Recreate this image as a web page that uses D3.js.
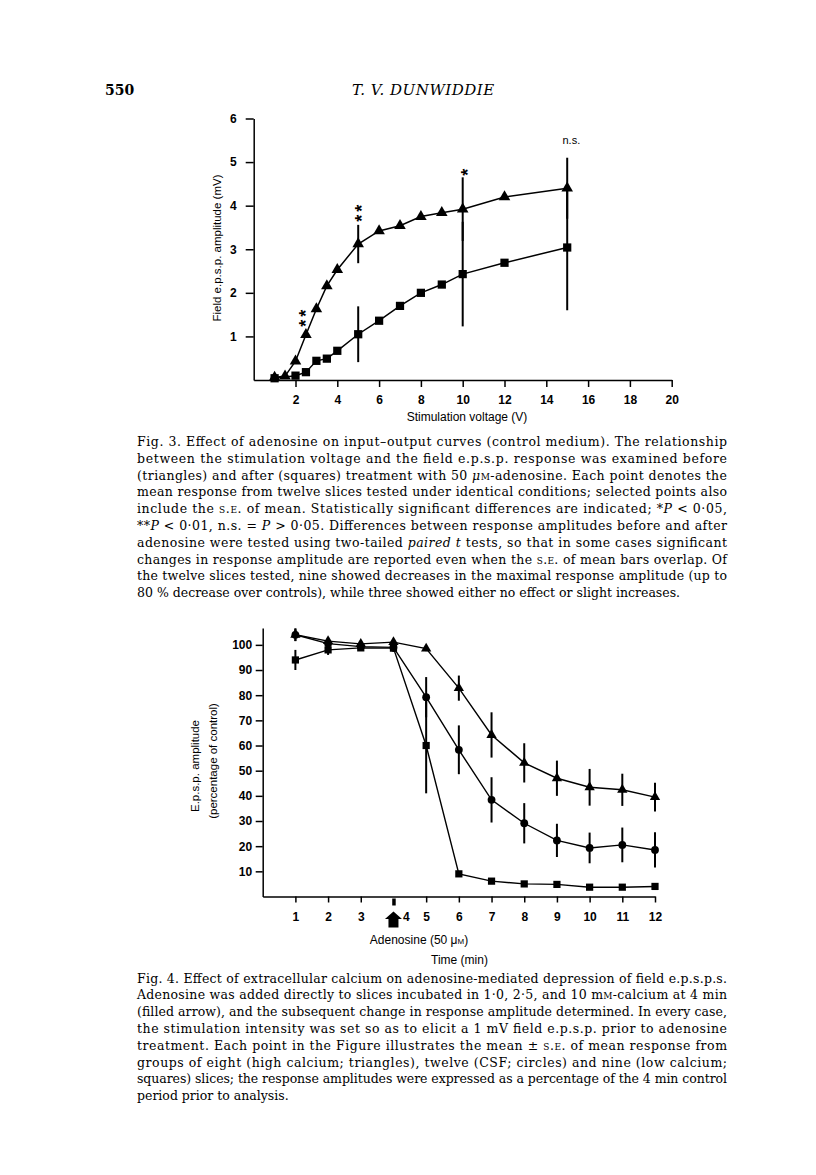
<!DOCTYPE html>
<html><head><meta charset="utf-8">
<script src="https://cdn.jsdelivr.net/npm/d3@7"></script>
<style>body{margin:0;background:#fff}</style>
</head><body>
<svg id="page" width="816" height="1175"></svg>
<script>
// ---------- Fig. 3 data ----------
const voltage = [1, 1.5, 2, 2.5, 3, 3.5, 4, 5, 6, 7, 8, 9, 10, 12, 15];
const beforeAmp = [0.06, 0.09, 0.43, 1.04, 1.63, 2.16, 2.53, 3.12, 3.42, 3.54, 3.75, 3.84, 3.92, 4.2, 4.4];
const voltageAfter = [1, 2, 2.5, 3, 3.5, 4, 5, 6, 7, 8, 9, 10, 12, 15];
const afterAmp = [0.04, 0.1, 0.18, 0.44, 0.49, 0.67, 1.05, 1.36, 1.7, 2.0, 2.19, 2.43, 2.69, 3.04];
const errVoltage = [5, 10, 15];
const beforeErr = [0.44, 0.73, 0.7];
const afterErr = [0.64, 1.2, 1.44];
const fig3XTicks = [2, 4, 6, 8, 10, 12, 14, 16, 18, 20];
const fig3YTicks = [1, 2, 3, 4, 5, 6];
// significance marks: x position, centre y, label
const sigMarkX = [2.31, 4.99, 10.06];
const sigMarkY = [1.45, 3.86, 4.8];
const sigMarkText = ["**", "**", "*"];
const nsLabel = {text: "n.s.", x: 15.2, y: 5.42};

// ---------- Fig. 4 data ----------
const timeMin = [1, 2, 3, 4, 5, 6, 7, 8, 9, 10, 11, 12];
const highCa = [104, 101.5, 100.4, 101.1, 98.5, 82.8, 64.2, 53.1, 47.0, 43.4, 42.4, 39.5];
const highCaErr = [2.5, 1.5, 1, 1, 1, 5, 9, 7.8, 7, 7.3, 6.4, 5.7];
const csf = [104, 100.5, 99.3, 99, 79.2, 58.3, 38.4, 29.1, 22.3, 19.3, 20.5, 18.5];
const csfErr = [2.5, 2, 1.5, 1.5, 8, 9.7, 9, 8, 6.6, 6.1, 6.9, 7];
const lowCa = [94, 98, 98.8, 98.7, 60, 9, 6.1, 5.0, 4.8, 3.7, 3.7, 4.0];
const lowCaErr = [4, 2, 1, 1.5, 19, 1, 0.5, 0.5, 0.5, 0.5, 0.5, 0.5];
const fig4XTicks = [1, 2, 3, 4, 5, 6, 7, 8, 9, 10, 11, 12];
const fig4YTicks = [10, 20, 30, 40, 50, 60, 70, 80, 90, 100];
const adenosineTime = 4;

// ---------- text ----------
const caption3 = [
  "Fig. 3. Effect of adenosine on input\u2013output curves (control medium). The relationship",
  "between the stimulation voltage and the field e.p.s.p. response was examined before",
  "(triangles) and after (squares) treatment with 50 _\u03bc_^m^-adenosine. Each point denotes the",
  "mean response from twelve slices tested under identical conditions; selected points also",
  "include the ^s.e.^ of mean. Statistically significant differences are indicated; *_P_ < 0\u00b705,",
  "**_P_ < 0\u00b701, n.s. = _P_ > 0\u00b705. Differences between response amplitudes before and after",
  "adenosine were tested using two-tailed _paired t_ tests, so that in some cases significant",
  "changes in response amplitude are reported even when the ^s.e.^ of mean bars overlap. Of",
  "the twelve slices tested, nine showed decreases in the maximal response amplitude (up to",
  "80 % decrease over controls), while three showed either no effect or slight increases."
];
const caption4 = [
  "Fig. 4. Effect of extracellular calcium on adenosine-mediated depression of field e.p.s.p.s.",
  "Adenosine was added directly to slices incubated in 1\u00b70, 2\u00b75, and 10 m^m^-calcium at 4 min",
  "(filled arrow), and the subsequent change in response amplitude determined. In every case,",
  "the stimulation intensity was set so as to elicit a 1 mV field e.p.s.p. prior to adenosine",
  "treatment. Each point in the Figure illustrates the mean \u00b1 ^s.e.^ of mean response from",
  "groups of eight (high calcium; triangles), twelve (CSF; circles) and nine (low calcium;",
  "squares) slices; the response amplitudes were expressed as a percentage of the 4 min control",
  "period prior to analysis."
];

const svg = d3.select("#page");
svg.append("rect").attr("width", 816).attr("height", 1175).attr("fill", "#fff");
const SANS = "'Liberation Sans', Arial, Helvetica, sans-serif";
const SERIF = "'DejaVu Serif', serif";

// header
svg.append("text").attr("x", 105).attr("y", 95).attr("font-family", SERIF)
  .attr("font-weight", "bold").attr("font-size", 14).text("550");
svg.append("text").attr("x", 352).attr("y", 95).attr("font-family", SERIF)
  .attr("font-style", "italic").attr("font-size", 15).attr("letter-spacing", 0.5).text("T. V. DUNWIDDIE");

function styleAxis(g, fs) {
  g.attr("font-family", SANS).attr("font-size", fs).attr("font-weight", "bold");
  g.select(".domain").attr("stroke", "#000").attr("stroke-width", 1.5);
  g.selectAll(".tick line").attr("stroke", "#000").attr("stroke-width", 1.5);
  g.selectAll(".tick text").attr("fill", "#000");
}

// ================= Fig. 3 =================
const x3 = d3.scaleLinear().domain([0, 20]).range([253.7, 671.7]);
const y3 = d3.scaleLinear().domain([0, 6]).range([380, 118.5]);
const f3 = svg.append("g");

const gx3 = f3.append("g").attr("transform", `translate(0,${y3(0)})`)
  .call(d3.axisBottom(x3).tickValues(fig3XTicks).tickSize(7).tickSizeOuter(0).tickPadding(8.5).tickFormat(d3.format("d")));
styleAxis(gx3, 12);
const gy3 = f3.append("g").attr("transform", `translate(${x3(0)},0)`)
  .call(d3.axisLeft(y3).tickValues(fig3YTicks).tickSize(8).tickSizeOuter(0).tickPadding(9).tickFormat(d3.format("d")));
styleAxis(gy3, 12);

f3.append("text").attr("x", 467).attr("y", 421).attr("text-anchor", "middle")
  .attr("font-family", SANS).attr("font-size", 12).text("Stimulation voltage (V)");
f3.append("text").attr("transform", "translate(221,248) rotate(-90)").attr("text-anchor", "middle")
  .attr("font-family", SANS).attr("font-size", 11.5).text("Field e.p.s.p. amplitude (mV)");

const line3 = d3.line().x(d => x3(d[0])).y(d => y3(d[1]));
const beforePts = voltage.map((v, i) => [v, beforeAmp[i]]);
const afterPts = voltageAfter.map((v, i) => [v, afterAmp[i]]);
f3.append("path").attr("d", line3(beforePts)).attr("fill", "none").attr("stroke", "#000").attr("stroke-width", 1.5);
f3.append("path").attr("d", line3(afterPts)).attr("fill", "none").attr("stroke", "#000").attr("stroke-width", 1.5);

errVoltage.forEach((v, k) => {
  const ib = voltage.indexOf(v), ia = voltageAfter.indexOf(v);
  f3.append("line").attr("x1", x3(v)).attr("x2", x3(v))
    .attr("y1", y3(beforeAmp[ib] - beforeErr[k])).attr("y2", y3(beforeAmp[ib] + beforeErr[k]))
    .attr("stroke", "#000").attr("stroke-width", 2);
  f3.append("line").attr("x1", x3(v)).attr("x2", x3(v))
    .attr("y1", y3(afterAmp[ia] - afterErr[k])).attr("y2", y3(afterAmp[ia] + afterErr[k]))
    .attr("stroke", "#000").attr("stroke-width", 2);
});

f3.selectAll(".tri").data(beforePts).join("path")
  .attr("transform", d => `translate(${x3(d[0])},${y3(d[1])})`)
  .attr("d", d3.symbol(d3.symbolTriangle, 58)).attr("fill", "#000");
f3.selectAll(".sq").data(afterPts).join("path")
  .attr("transform", d => `translate(${x3(d[0])},${y3(d[1])})`)
  .attr("d", d3.symbol(d3.symbolSquare, 68)).attr("fill", "#000");

// asterisks stacked vertically: one rotated text per mark
sigMarkX.forEach((sx, i) => {
  f3.append("text")
    .attr("transform", `translate(${x3(sx)},${y3(sigMarkY[i])}) rotate(-90)`)
    .attr("x", 0).attr("y", 10).attr("text-anchor", "middle")
    .attr("letter-spacing", 3)
    .attr("font-family", SANS).attr("font-weight", "bold").attr("font-size", 18)
    .text(sigMarkText[i]);
});
f3.append("text").attr("x", x3(nsLabel.x)).attr("y", y3(nsLabel.y)).attr("text-anchor", "middle")
  .attr("font-family", SANS).attr("font-size", 11).text(nsLabel.text);

// ================= Fig. 4 =================
const x4 = d3.scaleLinear().domain([0, 12]).range([262.7, 655]);
const y4 = d3.scaleLinear().domain([0, 106.7]).range([896.5, 628]);
const f4 = svg.append("g");

const gx4 = f4.append("g").attr("transform", `translate(0,${y4(0)})`)
  .call(d3.axisBottom(x4).tickValues(fig4XTicks).tickSize(6).tickSizeOuter(0).tickPadding(9.5).tickFormat(d3.format("d")));
styleAxis(gx4, 12);
gx4.selectAll(".tick").filter(d => d === adenosineTime).each(function () {
  d3.select(this).select("line").attr("stroke-width", 3.5).attr("y1", 2).attr("y2", 9);
  d3.select(this).select("text").attr("x", 12.5);
});
const gy4 = f4.append("g").attr("transform", `translate(${x4(0)},0)`)
  .call(d3.axisLeft(y4).tickValues(fig4YTicks).tickSize(7).tickSizeOuter(0).tickPadding(3.5).tickFormat(d3.format("d")));
styleAxis(gy4, 12);

// arrow under adenosine time
const ax = x4(adenosineTime);
f4.append("path").attr("fill", "#000")
  .attr("d", `M${ax},911.5 L${ax + 8.5},919 L${ax + 5},919 L${ax + 5},927.5 L${ax - 5},927.5 L${ax - 5},919 L${ax - 8.5},919 Z`);

const adLabel = f4.append("text").attr("x", 419).attr("y", 943.5).attr("text-anchor", "middle")
  .attr("font-family", SANS).attr("font-size", 12);
adLabel.append("tspan").text("Adenosine (50 \u03bc");
adLabel.append("tspan").style("font-variant", "small-caps").text("m");
adLabel.append("tspan").text(")");
f4.append("text").attr("x", 459.5).attr("y", 963.5).attr("text-anchor", "middle")
  .attr("font-family", SANS).attr("font-size", 12).text("Time (min)");
f4.append("text").attr("transform", "translate(199,766) rotate(-90)").attr("text-anchor", "middle")
  .attr("font-family", SANS).attr("font-size", 11.5).text("E.p.s.p. amplitude");
f4.append("text").attr("transform", "translate(217,761) rotate(-90)").attr("text-anchor", "middle")
  .attr("font-family", SANS).attr("font-size", 11.5).text("(percentage of control)");

const series4 = [
  {vals: highCa, err: highCaErr, sym: d3.symbolTriangle, size: 46},
  {vals: csf, err: csfErr, sym: d3.symbolCircle, size: 48},
  {vals: lowCa, err: lowCaErr, sym: d3.symbolSquare, size: 52}
];
const line4 = d3.line().x((d, i) => x4(timeMin[i])).y(d => y4(d));
series4.forEach(s => {
  f4.append("path").attr("d", line4(s.vals)).attr("fill", "none").attr("stroke", "#000").attr("stroke-width", 1.4);
});
series4.forEach(s => {
  s.vals.forEach((v, i) => {
    f4.append("line").attr("x1", x4(timeMin[i])).attr("x2", x4(timeMin[i]))
      .attr("y1", y4(v - s.err[i])).attr("y2", y4(v + s.err[i]))
      .attr("stroke", "#000").attr("stroke-width", 2);
  });
});
series4.forEach(s => {
  f4.append("g").selectAll("path").data(s.vals).join("path")
    .attr("transform", (d, i) => `translate(${x4(timeMin[i])},${y4(d)})`)
    .attr("d", d3.symbol(s.sym, s.size)).attr("fill", "#000");
});

// ================= captions =================
const COL_X = 137, COL_W = 590;
function addLine(g, x, y, str, justify) {
  const t = g.append("text").attr("x", x).attr("y", y)
    .attr("font-family", SERIF).attr("font-size", 12.5).attr("fill", "#000");
  let italic = false, sc = false, buf = "";
  const flush = () => {
    if (!buf) return;
    const ts = t.append("tspan").text(buf);
    if (italic) ts.attr("font-style", "italic");
    if (sc) ts.style("font-variant", "small-caps");
    buf = "";
  };
  for (const ch of str) {
    if (ch === "_") { flush(); italic = !italic; }
    else if (ch === "^") { flush(); sc = !sc; }
    else buf += ch;
  }
  flush();
  if (justify) t.attr("textLength", COL_W).attr("lengthAdjust", "spacing");
}
const capG = svg.append("g");
caption3.forEach((l, i) => addLine(capG, COL_X, 446 + i * 16.8, l, i < caption3.length - 1));
caption4.forEach((l, i) => addLine(capG, COL_X, 982.5 + i * 16.8, l, i < caption4.length - 1));
</script>
</body></html>
